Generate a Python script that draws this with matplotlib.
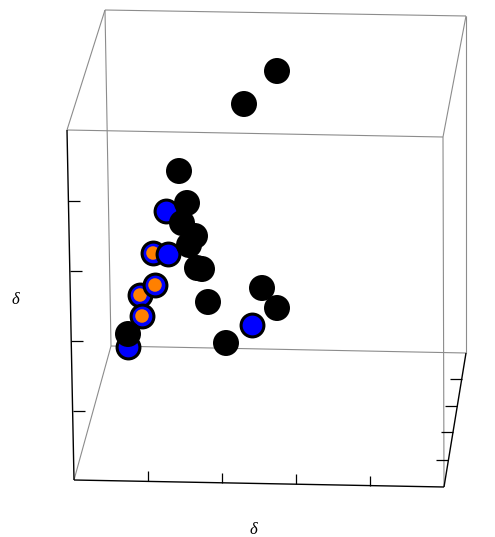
import numpy as np
import matplotlib
matplotlib.use("Agg")
import matplotlib.pyplot as plt

# projected positions of the points (screen units)
black_x = [277, 244, 179, 187, 182, 195, 189, 197, 202, 208, 262, 277, 226, 128]
black_y = [71, 104, 171, 203, 223, 236, 245, 268, 269, 302, 288, 308, 343, 334]
blue_x = [166, 168, 252, 128]
blue_y = [211, 254, 325, 347]
orange_x = [140, 142, 153, 155]
orange_y = [295, 316, 253, 285]

# box corners: front face, back face
front = np.array([[67, 130], [443, 137], [444, 487], [74, 480]])
back = np.array([[105, 10], [466, 16], [466, 353], [111, 346]])

# tick marks along the three drawn axes
left_ticks = [201, 271, 341, 411]
bottom_ticks = [148, 222, 296, 370]
depth_ticks = [379, 406, 432, 460]

fig = plt.figure(figsize=(4.95, 5.37), dpi=100)
ax = fig.add_axes([0, 0, 1, 1])
ax.set_xlim(0, 495)
ax.set_ylim(537, 0)
ax.axis("off")

gray = "#8c8c8c"
def seg(p, q, c=gray, lw=0.8, z=1):
    ax.plot([p[0], q[0]], [p[1], q[1]], color=c, lw=lw, zorder=z,
            solid_capstyle="butt")

# gray box edges
seg(front[0], front[1])
seg(front[1], front[2])
seg(back[0], back[1])
seg(back[1], back[2])
seg(back[2], back[3])
seg(back[3], back[0])
seg(front[0], back[0])
seg(front[1], back[1])
seg(front[3], back[3])

# black axes
seg(front[0], front[3], "black", 1.0, 2)
seg(front[3], front[2], "black", 1.0, 2)
seg(front[2], back[2], "black", 1.0, 2)

def on_line(p, q, y=None, x=None):
    if y is not None:
        t = (y - p[1]) / (q[1] - p[1])
    else:
        t = (x - p[0]) / (q[0] - p[0])
    return p + t * (q - p)

for y in left_ticks:
    p = on_line(front[0], front[3], y=y)
    seg(p, p + [12, 0], "black", 0.9, 2)
for x in bottom_ticks:
    p = on_line(front[3], front[2], x=x)
    seg(p, p + [0, -10], "black", 0.9, 2)
for y in depth_ticks:
    p = on_line(front[2], back[2], y=y)
    seg(p, p + [-12, 0], "black", 0.9, 2)

# points
for x, y in zip(orange_x, orange_y):
    ax.scatter([x], [y], s=270, c="#0000ff", edgecolors="black",
               linewidths=2.2, zorder=3)
    ax.scatter([x], [y], s=95, c="#ff8000", edgecolors="none", zorder=3)
ax.scatter(blue_x, blue_y, s=270, c="#0000ff", edgecolors="black",
           linewidths=2.2, zorder=4)
ax.scatter(black_x, black_y, s=350, c="black", edgecolors="none", zorder=5)

# axis labels
lab = dict(family="Liberation Serif", style="italic", fontsize=12,
           ha="center", va="center")
ax.text(15, 300, "δ", **lab)
ax.text(253, 530, "δ", **lab)

fig.savefig("out.png", dpi=100)
